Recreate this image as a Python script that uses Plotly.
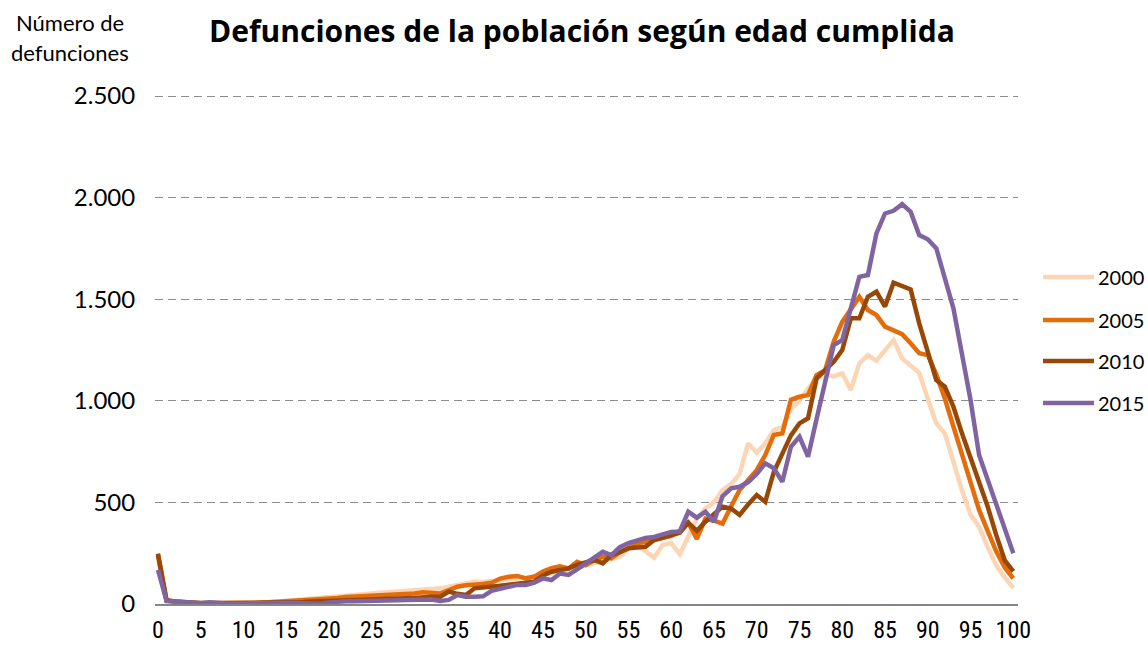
import plotly.graph_objects as go

ages = list(range(0, 101))

y2000 = [230, 18, 12, 8, 6, 5, 5, 5, 5, 6, 6, 7, 8, 10, 12, 16, 20, 24, 28, 30,
         34, 40, 45, 48, 50, 52, 55, 58, 58, 62, 65, 70, 75, 77, 85, 95, 105, 110, 108, 112,
         118, 120, 125, 128, 134, 145, 155, 160, 168, 176, 190, 200, 210, 220, 233, 270, 290, 260, 228, 290,
         300, 245, 330, 420, 470, 500, 560, 590, 640, 790, 745, 790, 856, 870, 960, 1000, 1060, 1110, 1130, 1120,
         1135, 1053, 1184, 1225, 1197, 1250, 1299, 1209, 1170, 1138, 1010, 889, 840, 700, 560, 440, 380, 280, 190, 130,
         80]

y2005 = [240, 16, 12, 6, 4, 3, 3, 3, 3, 4, 5, 6, 7, 9, 11, 14, 18, 22, 24, 26,
         28, 30, 34, 36, 38, 40, 42, 44, 46, 48, 52, 58, 55, 52, 68, 85, 92, 94, 98, 105,
         125, 134, 138, 126, 135, 160, 176, 185, 175, 208, 192, 215, 233, 225, 255, 275, 300, 305, 315, 325,
         335, 360, 400, 320, 420, 410, 395, 480, 561, 610, 659, 733, 832, 840, 1005, 1020, 1028, 1127, 1151, 1290,
         1389, 1450, 1512, 1447, 1422, 1365, 1348, 1328, 1283, 1234, 1225, 1130, 1010, 870, 741, 594, 463, 360, 260, 180,
         126]

y2010 = [248, 18, 12, 8, 6, 5, 5, 4, 4, 4, 5, 5, 6, 6, 7, 8, 9, 10, 12, 13,
         15, 16, 18, 19, 20, 22, 24, 25, 27, 28, 30, 34, 36, 36, 61, 50, 44, 77, 80, 85,
         90, 95, 102, 105, 110, 140, 159, 167, 175, 192, 205, 217, 200, 241, 255, 274, 278, 282, 315, 325,
         335, 350, 400, 360, 405, 440, 479, 470, 438, 490, 536, 503, 650, 740, 830, 889, 914, 1110, 1150, 1192,
         1250, 1406, 1406, 1512, 1537, 1464, 1581, 1565, 1548, 1381, 1250, 1102, 1069, 971, 840, 720, 610, 480, 340, 215,
         160]

y2015 = [168, 14, 12, 8, 6, 4, 8, 4, 3, 3, 4, 4, 4, 5, 5, 5, 6, 4, 2, 0,
         8, 12, 14, 14, 14, 15, 15, 16, 18, 20, 22, 24, 22, 15, 20, 44, 36, 36, 38, 65,
         75, 82, 94, 94, 105, 126, 118, 150, 143, 170, 200, 230, 257, 241, 280, 300, 315, 325, 330, 340,
         355, 357, 454, 425, 454, 405, 530, 569, 577, 600, 640, 692, 668, 602, 774, 823, 725, 910, 1090, 1274,
         1299, 1450, 1610, 1619, 1824, 1922, 1935, 1968, 1930, 1816, 1795, 1750, 1600, 1455, 1230, 1004, 733, 610, 490, 370,
         250]

series_names = ["2000", "2005", "2010", "2015"]
series_values = [y2000, y2005, y2010, y2015]
series_colors = ["#FCD5B5", "#E46C0A", "#974706", "#8064A2"]

title_text = "Defunciones de la población según edad cumplida"
ytitle_lines = ["Número de", "defunciones"]

FONT = "Lato, 'Open Sans', sans-serif"
NARROW = "'Liberation Sans Narrow', 'Roboto Condensed', Roboto, sans-serif"

W, H = 1148, 646
# plot area in pixels: x 155..1018, y 94..604 (y range slightly above 2500 so its gridline shows)
PX_L, PX_R, PX_T, PX_B = 155, 1018, 94, 604
Y_TOP = 2510


def px_x(px):
    return (px - PX_L) / (PX_R - PX_L)


def px_y(py):
    return (PX_B - py) / (PX_B - PX_T)


fig = go.Figure()
for name, vals, col in zip(series_names, series_values, series_colors):
    fig.add_trace(go.Scatter(
        x=ages, y=vals, name=name, mode="lines",
        line=dict(color=col, width=4.5, shape="linear"),
        hoverinfo="x+y+name", showlegend=False,
    ))

fig.update_layout(
    width=W, height=H,
    margin=dict(l=PX_L, r=W - PX_R, t=PX_T, b=H - PX_B, autoexpand=False),
    paper_bgcolor="white", plot_bgcolor="white",
    separators=",.",
    font=dict(family=FONT, color="#000000"),
    showlegend=False,
    xaxis=dict(
        range=[-0.35, 100.55], automargin=False,
        tickmode="linear", tick0=0, dtick=5,
        showgrid=False, zeroline=False,
        showline=True, linecolor="#868686", linewidth=1.5,
        ticks="outside", ticklen=3, tickcolor="rgba(0,0,0,0)",
        tickfont=dict(size=24, family=NARROW, color="#000000"),
    ),
    yaxis=dict(
        range=[0, Y_TOP], automargin=False,
        tickmode="linear", tick0=0, dtick=500,
        tickformat=",d",
        showgrid=True, gridcolor="#8C8C8C", gridwidth=1.2, griddash="8px,5px",
        zeroline=False, showline=False,
        ticks="outside", ticklen=14, tickcolor="rgba(0,0,0,0)",
        tickfont=dict(size=24, family=FONT, color="#000000"),
    ),
)

# legend (line samples + labels, placed like the reference)
legend_rows_px = [277, 320, 361, 403]
for name, col, py in zip(series_names, series_colors, legend_rows_px):
    fig.add_shape(
        type="line", xref="paper", yref="paper",
        x0=px_x(1043), x1=px_x(1094), y0=px_y(py), y1=px_y(py),
        line=dict(color=col, width=4.5),
    )
    fig.add_annotation(
        text=name, xref="paper", yref="paper",
        x=px_x(1096), y=px_y(py), xanchor="left", yanchor="middle", showarrow=False,
        font=dict(size=20, family=FONT, color="#000000"),
    )

fig.add_annotation(
    text="<b>" + title_text + "</b>", xref="paper", yref="paper",
    x=px_x(582), y=px_y(30), xanchor="center", yanchor="middle", showarrow=False,
    font=dict(size=30, family="'Open Sans', Lato, sans-serif", color="#000000"),
)
fig.add_annotation(
    text=ytitle_lines[0], xref="paper", yref="paper",
    x=px_x(70), y=px_y(22), xanchor="center", yanchor="middle", showarrow=False,
    font=dict(size=22, family=FONT, color="#000000"),
)
fig.add_annotation(
    text=ytitle_lines[1], xref="paper", yref="paper",
    x=px_x(70), y=px_y(52), xanchor="center", yanchor="middle", showarrow=False,
    font=dict(size=22, family=FONT, color="#000000"),
)

fig.write_html(
    "out.html",
    config={"displayModeBar": False},
    post_script="document.body.style.margin='0';document.body.style.overflow='hidden';",
)
